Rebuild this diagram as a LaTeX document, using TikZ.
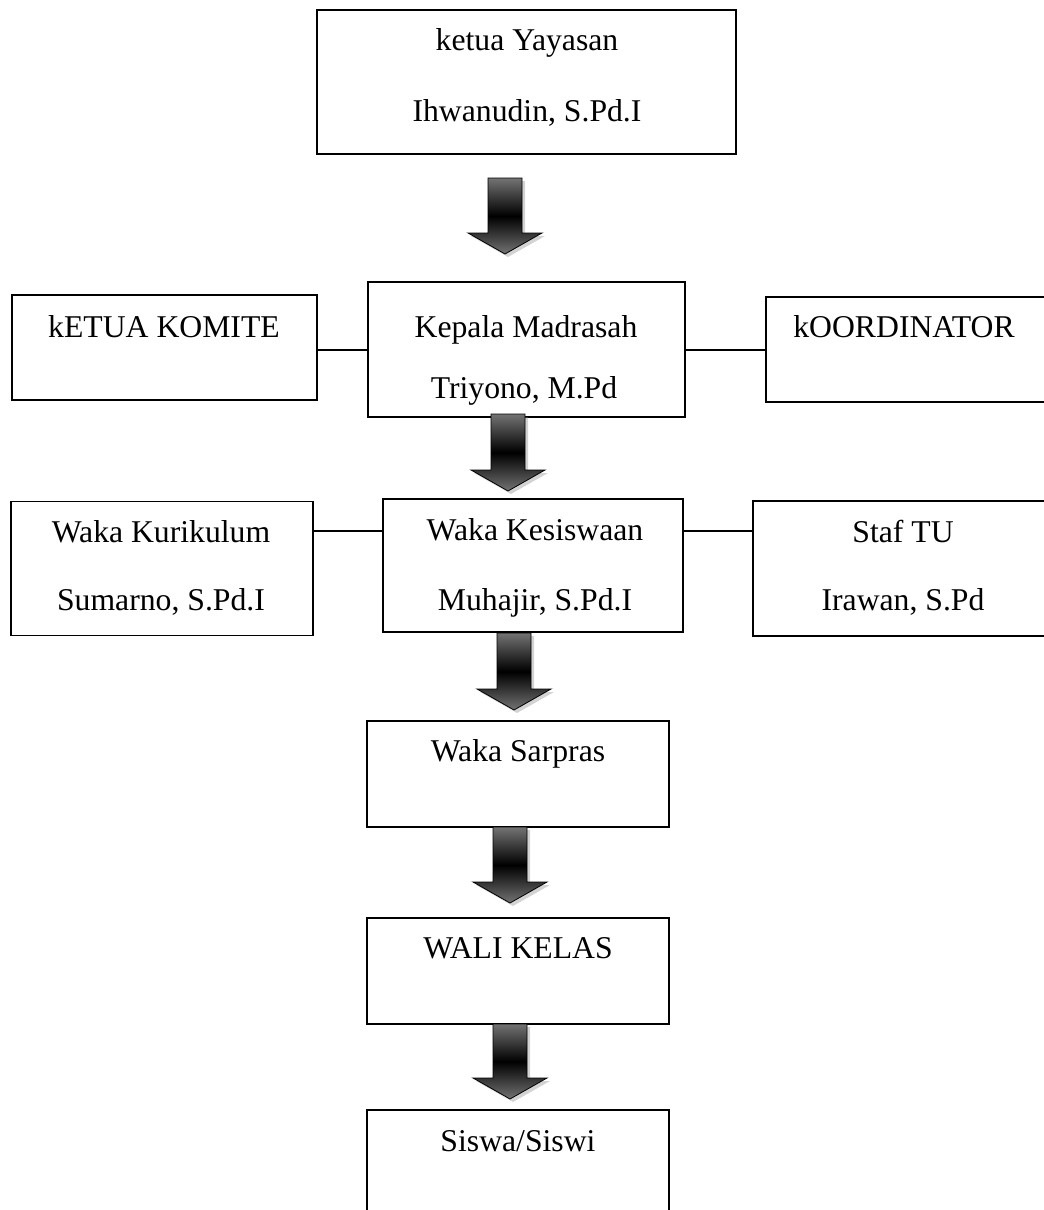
\documentclass[tikz,border=0pt]{standalone}
\usepackage{fontspec}
\setmainfont{Liberation Serif}
\usetikzlibrary{positioning,shadows,calc}

% block arrow: x, top y, tip y
\newcommand{\blkarrow}[3]{%
  \shade[blk] (#1-17,#2) -- (#1+17,#2) -- (#1+17,#3-21) -- (#1+37,#3-21)
    -- (#1,#3) -- (#1-37,#3-21) -- (#1-17,#3-21) -- cycle;}

\begin{document}
\begin{tikzpicture}[x=1pt,y=-1pt,
    bx/.style 2 args={rectangle,draw=black,line width=1.5pt,inner sep=0pt,
               minimum width=#1pt,minimum height=#2pt},
    tx/.style={anchor=base,inner sep=0pt,font=\fontsize{31.7}{38}\selectfont},
    ln/.style={line width=1.5pt,black},
    blk/.style={draw=black,line width=0.8pt,top color=black!55,
               bottom color=black!55,middle color=black,
               drop shadow={shadow xshift=3pt,shadow yshift=-3pt,opacity=0.35}}]
\useasboundingbox (0,0) rectangle (1044,1210);
\clip (0,0) rectangle (1044,1210);
% boxes
\node[bx={419}{144}] (yay)  at (526.5,82)   {};
\node[bx={305}{105}] (kom)  at (164.5,347.5) {};
\node[bx={317}{135}] (kep)  at (526.5,349.5) {};
\node[bx={294}{105}] (koor) at (913,349.5)  {};
\node[bx={302}{134}] (kur)  at (162,568.5)  {};
\node[bx={300}{133}] (kes)  at (533,565.5)  {};
\node[bx={300}{135}] (staf) at (903,568.5)  {};
\node[bx={302}{106}] (sar)  at (518,774)    {};
\node[bx={302}{106}] (wali) at (518,971)    {};
\node[bx={302}{130}] (sis)  at (518,1175)   {};
% texts
\node[tx] (yayA)  at (527,50)  {ketua Yayasan};
\node[tx] (yayB)  at (527,121) {Ihwanudin, S.Pd.I};
\node[tx] (komA)  at (164,337) {kETUA KOMITE};
\node[tx] (kepA)  at (526,337) {Kepala Madrasah};
\node[tx] (kepB)  at (524,398) {Triyono, M.Pd};
\node[tx] (koorA) at (904,337) {kOORDINATOR};
\node[tx] (kurA)  at (161,542) {Waka Kurikulum};
\node[tx] (kurB)  at (161,610) {Sumarno, S.Pd.I};
\node[tx] (kesA)  at (535,540) {Waka Kesiswaan};
\node[tx] (kesB)  at (535,610) {Muhajir, S.Pd.I};
\node[tx] (stafA) at (903,542) {Staf TU};
\node[tx] (stafB) at (903,610) {Irawan, S.Pd};
\node[tx] (sarA)  at (518,761) {Waka Sarpras};
\node[tx] (waliA) at (518,958) {WALI KELAS};
\node[tx] (sisA)  at (518,1151) {Siswa/Siswi};
% side links
\coordinate (rowB) at (0,350);
\coordinate (rowC) at (0,531);
\draw[ln] (kom.east |- rowB) -- (kep.west |- rowB);
\draw[ln] (kep.east |- rowB) -- (koor.west |- rowB);
\draw[ln] (kur.east |- rowC) -- (kes.west |- rowC);
\draw[ln] (kes.east |- rowC) -- (staf.west |- rowC);
% block arrows
\blkarrow{505}{178}{254}
\blkarrow{508}{414}{491}
\blkarrow{514}{633}{710}
\blkarrow{510}{827}{903}
\blkarrow{510}{1024}{1099}
\end{tikzpicture}
\end{document}
